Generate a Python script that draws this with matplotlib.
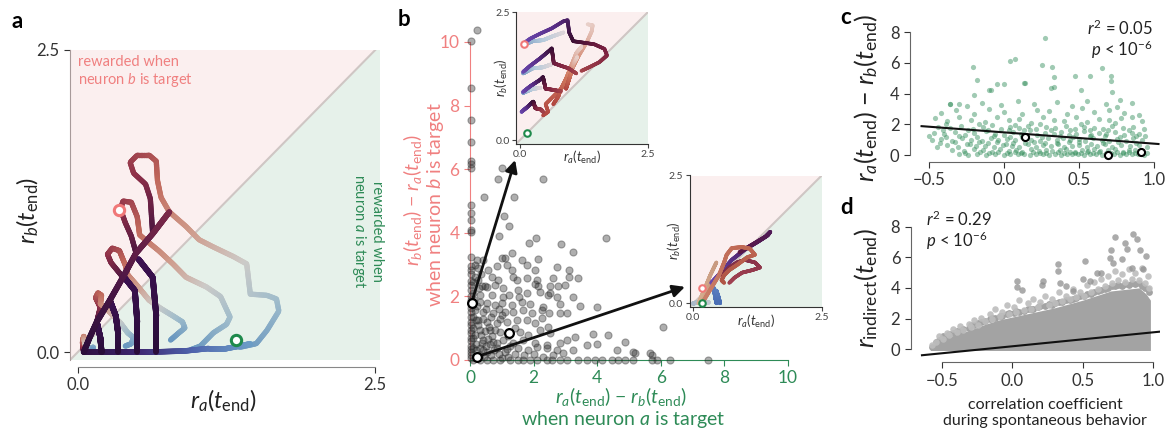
import numpy as np
import matplotlib
matplotlib.use("Agg")
import matplotlib.pyplot as plt
from matplotlib.collections import LineCollection
from matplotlib.colors import LinearSegmentedColormap

plt.rcParams['font.family'] = ['Lato', 'DejaVu Sans']
plt.rcParams['mathtext.fontset'] = 'custom'
plt.rcParams['mathtext.rm'] = 'Lato'
plt.rcParams['mathtext.it'] = 'Lato:italic'
plt.rcParams['mathtext.bf'] = 'Lato:bold'

# ---------------- data: panel a trajectories ----------------
a_trunk_x = [0.05, 0.10, 0.16, 0.27, 0.38, 0.49, 0.63, 0.77]
a_trunk_y = [0.00, 0.12, 0.25, 0.43, 0.62, 0.82, 0.98, 1.16]
a_drops = [
    ([0.16, 0.19, 0.20], [0.25, 0.12, 0.0]),
    ([0.27, 0.32, 0.34, 0.34], [0.43, 0.30, 0.15, 0.0]),
    ([0.39, 0.48, 0.50, 0.50], [0.62, 0.51, 0.25, 0.0]),
    ([0.51, 0.63, 0.66, 0.66], [0.77, 0.62, 0.30, 0.0]),
]
a_bottom_x = [0.05, 0.30, 0.60, 0.90, 1.10, 1.25, 1.36, 1.45]
a_bottom_y = [0.00, 0.00, 0.00, 0.01, 0.03, 0.03, 0.05, 0.07]
a_loops = [
    ([0.63, 0.61, 0.57, 0.47, 0.44, 0.50, 0.60, 0.66, 0.67, 0.70, 0.77, 0.91, 1.02, 1.14, 1.31,
      1.42, 1.45, 1.59, 1.67, 1.69, 1.59, 1.50, 1.36],
     [0.98, 1.27, 1.39, 1.48, 1.57, 1.63, 1.63, 1.58, 1.42, 1.28, 1.16, 1.04, 0.93, 0.87, 0.79,
      0.73, 0.48, 0.47, 0.44, 0.34, 0.18, 0.07, 0.04]),
    ([0.49, 0.45, 0.40, 0.36, 0.38, 0.45, 0.50, 0.52, 0.58, 0.68, 0.80, 0.91, 1.08, 1.20, 1.28,
      1.25, 1.14, 1.03, 0.95],
     [0.82, 0.96, 1.07, 1.18, 1.25, 1.24, 1.12, 0.97, 0.92, 0.84, 0.73, 0.62, 0.54, 0.46, 0.29,
      0.23, 0.16, 0.05, 0.02]),
    ([0.38, 0.33, 0.28, 0.25, 0.29, 0.35, 0.40, 0.42, 0.50, 0.60, 0.70, 0.80, 0.88, 0.90, 0.85,
      0.78],
     [0.62, 0.68, 0.74, 0.81, 0.86, 0.84, 0.72, 0.64, 0.55, 0.43, 0.36, 0.30, 0.25, 0.20, 0.16,
      0.10]),
    ([0.16, 0.19, 0.15, 0.17, 0.20, 0.19, 0.24, 0.30, 0.36, 0.42, 0.47, 0.45, 0.40],
     [0.25, 0.37, 0.45, 0.49, 0.47, 0.40, 0.36, 0.30, 0.24, 0.16, 0.12, 0.07, 0.05]),
    ([0.05, 0.04, 0.05, 0.06, 0.09, 0.13, 0.12],
     [0.00, 0.08, 0.13, 0.07, 0.03, 0.04, 0.01]),
]
a_start_pt = (0.35, 1.18)   # pink open circle
a_end_pt = (1.33, 0.10)     # green open circle

# ---------------- data: inset 1 (panel b, top) ----------------
i1_purple = [
    ([0.06, 0.20, 0.40, 0.62, 0.85, 0.93, 0.96, 1.04, 1.25, 1.45, 1.65, 1.70, 1.55, 1.35, 1.20],
     [1.88, 1.98, 2.08, 2.18, 2.32, 2.34, 2.10, 1.93, 1.90, 1.87, 1.78, 1.65, 1.52, 1.42, 1.35]),
    ([0.06, 0.20, 0.40, 0.58, 0.62, 0.66, 0.80, 0.95, 1.10],
     [1.33, 1.45, 1.60, 1.75, 1.79, 1.50, 1.45, 1.40, 1.30]),
    ([0.06, 0.20, 0.40, 0.45, 0.50, 0.65, 0.80],
     [0.94, 1.05, 1.18, 1.23, 1.00, 0.98, 0.95]),
    ([0.03, 0.15, 0.26, 0.30, 0.40, 0.45],
     [0.55, 0.65, 0.75, 0.62, 0.60, 0.55]),
]
i1_blue = [
    ([0.06, 0.25, 0.45, 0.65, 0.85], [1.85, 1.93, 1.95, 2.03, 2.10]),
    ([0.06, 0.25, 0.45, 0.62], [1.30, 1.40, 1.42, 1.48]),
    ([0.06, 0.25, 0.40], [0.92, 1.00, 1.02]),
]
i1_salmon = [
    ([0.45, 0.55, 0.50, 0.60, 0.75, 0.85, 0.95, 1.05, 1.15, 1.30, 1.40, 1.42, 1.32],
     [0.48, 0.55, 0.70, 0.80, 0.95, 1.05, 1.25, 1.45, 1.65, 1.90, 2.12, 2.24, 2.26]),
    ([0.65, 0.75, 0.80, 0.90, 1.00, 1.10, 1.20],
     [0.70, 0.85, 1.00, 1.20, 1.45, 1.70, 1.82]),
    ([0.90, 0.98, 1.05, 1.12], [1.00, 1.25, 1.50, 1.62]),
]
i1_start_pt = (0.08, 1.87)
i1_end_pt = (0.13, 0.13)

# ---------------- data: inset 2 (panel b, right) ----------------
i2_paths = [
    ([0.35, 0.55, 0.75, 1.00, 1.25, 1.45, 1.50, 1.40, 1.15, 0.90],
     [0.40, 0.62, 0.85, 1.05, 1.20, 1.33, 1.40, 1.30, 1.15, 1.00]),
    ([0.55, 0.70, 0.85, 1.00, 1.20, 1.30, 1.15, 0.95, 0.80, 0.70],
     [0.55, 0.70, 0.80, 0.85, 0.80, 0.70, 0.65, 0.60, 0.50, 0.40]),
    ([0.20, 0.35, 0.50, 0.60, 0.65, 0.75, 0.95, 1.10, 1.20, 1.05, 0.85, 0.70, 0.60, 0.55, 0.60],
     [0.05, 0.30, 0.55, 0.80, 0.95, 1.08, 1.10, 1.07, 0.95, 0.90, 0.75, 0.65, 0.55, 0.45, 0.40]),
]
i2_blue = [
    ([0.40, 0.42, 0.45], [0.30, 0.15, 0.00]),
    ([0.45, 0.50, 0.52], [0.25, 0.10, 0.00]),
]
i2_tan = [
    ([0.10, 0.22, 0.33, 0.45], [0.00, 0.28, 0.55, 0.80]),
    ([0.15, 0.26, 0.36], [0.00, 0.20, 0.42]),
]
i2_grey_x = [0.00, 0.10, 0.20, 0.30]
i2_grey_y = [0.00, 0.02, 0.00, 0.02]
i2_start_pt = (0.16, 0.30)
i2_end_pt = (0.16, 0.00)

# ---------------- data: panel b scatter ----------------
b_col_y = [10.04, 8.54, 7.55, 6.87, 6.26, 6.15, 6.03, 4.87, 4.61, 4.40, 4.09, 4.04, 3.25, 2.95,
           2.83, 2.70, 2.50, 2.35, 2.20, 2.00, 1.90, 1.65, 1.50, 1.35, 1.20, 1.10, 0.95, 0.85,
           0.70, 0.60, 0.45, 0.35, 0.25, 0.15, 0.05]
b_pts = [
    (0.21, 10.38), (1.0, 6.03), (0.89, 5.68), (2.31, 5.68), (0.43, 5.13), (1.37, 5.13),
    (1.08, 4.54), (1.22, 4.22), (0.92, 3.90), (4.28, 3.83), (2.08, 3.85), (1.84, 3.67), (2.86, 3.65),
    (1.31, 3.38), (3.25, 3.39), (1.0, 3.2), (1.1, 3.2), (1.62, 3.14), (2.13, 3.17), (0.21, 3.14),
    (0.42, 3.14), (0.84, 2.96), (1.15, 3.0), (1.31, 2.83), (1.78, 3.0), (2.73, 2.94), (3.12, 2.83),
    (2.04, 2.83), (0.58, 2.83), (1.36, 2.62), (1.47, 2.52), (1.78, 2.57), (2.1, 2.52), (2.62, 2.57),
    (3.12, 2.6), (3.41, 2.57), (0.68, 2.62), (0.89, 2.52), (0.26, 2.52), (0.37, 2.33), (0.47, 2.33),
    (0.79, 2.36), (1.05, 2.25), (1.52, 2.2), (2.04, 2.38), (2.15, 2.33), (2.52, 2.33), (2.78, 2.33),
    (2.99, 2.36), (0.1, 2.1), (0.31, 2.04), (0.68, 2.04), (1.05, 1.99), (1.24, 2.04), (1.55, 1.99),
    (1.78, 2.1), (2.2, 2.15), (2.46, 2.04), (2.52, 2.1), (3.25, 1.97), (2.73, 1.99), (0.31, 1.83),
    (0.52, 1.78), (0.79, 1.73), (1.0, 1.78), (1.31, 1.73), (1.63, 1.83), (1.89, 1.76), (2.31, 1.68),
    (2.83, 1.76), (3.46, 1.7), (3.98, 1.68), (0.16, 1.57), (0.42, 1.52), (0.73, 1.47), (1.0, 1.42),
    (1.36, 1.52), (1.68, 1.57), (1.94, 1.47), (2.25, 1.57), (2.49, 1.47), (2.83, 1.47), (3.04, 1.47),
    (0.1, 1.36), (0.26, 1.26), (0.52, 1.2), (0.84, 1.15), (1.15, 1.2), (1.47, 1.26), (1.78, 1.26),
    (2.04, 1.15), (2.46, 1.05), (2.25, 1.31), (0.1, 1.0), (0.31, 0.94), (0.63, 0.94), (0.94, 0.89),
    (1.57, 0.89), (1.83, 0.79), (2.2, 0.94), (2.52, 0.84), (3.88, 0.82), (4.35, 0.79), (6.08, 1.05),
    (0.1, 0.68), (0.42, 0.63), (0.73, 0.58), (1.05, 0.63), (1.36, 0.55), (1.68, 0.63), (2.04, 0.52),
    (2.41, 0.47), (2.83, 0.52), (3.04, 0.63), (3.3, 0.71), (3.67, 0.47), (3.98, 0.49), (4.87, 0.56),
    (4.61, 0.31), (5.14, 0.26), (5.2, 0.21), (5.66, 0.23), (5.71, 0.16), (0.1, 0.37), (0.42, 0.31),
    (0.84, 0.37), (1.1, 0.26), (1.52, 0.37), (1.83, 0.31), (2.1, 0.42), (2.41, 0.37), (2.73, 0.31),
    (2.94, 0.21), (3.25, 0.31), (0.2, 0.5), (0.35, 0.8), (0.5, 0.45), (0.6, 1.05), (0.25, 1.1),
    (0.4, 1.3), (0.15, 0.8), (0.55, 0.25), (0.7, 0.75), (0.85, 0.55), (0.3, 0.15), (0.45, 0.1),
    (0.65, 0.15), (0.9, 0.2), (1.2, 0.1), (1.4, 0.2), (0.18, 0.3), (0.38, 0.55), (0.58, 0.65),
    (0.78, 0.95), (0.95, 1.3), (1.2, 0.75), (1.4, 1.0), (0.22, 1.7), (0.12, 1.9), (0.5, 1.6),
    (0.65, 1.35), (0.9, 1.6), (1.1, 1.5), (1.25, 0.45), (1.7, 0.15), (2.0, 0.2), (2.3, 0.1),
    (2.6, 0.15), (0.28, 2.25), (0.15, 2.6), (0.55, 2.3), (0.18, 1.25), (0.33, 0.38), (0.62, 0.5),
    (0.48, 0.9), (0.75, 0.3), (1.0, 0.05), (1.15, 0.35), (0.08, 2.45), (0.15, 3.0), (0.25, 2.9),
    (0.35, 2.7),
]
b_zero_x = [0.1, 0.31, 0.52, 0.73, 0.94, 1.26, 1.52, 1.68, 1.89, 2.1, 2.41, 2.57, 2.83, 3.04,
            3.41, 3.67, 3.93, 4.14, 4.46, 4.66, 4.87, 5.14, 5.71, 5.87, 6.29, 7.49]
b_highlight = [(0.05, 1.80), (1.24, 0.84), (0.21, 0.10)]

# ---------------- data: panel c ----------------
c_rows_x = [
    [-0.30, -0.24, -0.18, -0.12, -0.06, 0.00, 0.04, 0.09, 0.13, 0.17, 0.21, 0.26, 0.30, 0.34, 0.38,
     0.42, 0.45, 0.49, 0.53, 0.57, 0.61, 0.65, 0.73, 0.77, 0.81, 0.85, 0.89, 0.93],
    [-0.26, -0.16, -0.10, -0.04, 0.02, 0.07, 0.11, 0.19, 0.24, 0.28, 0.36, 0.40, 0.44, 0.47, 0.51,
     0.55, 0.59, 0.63, 0.68, 0.71, 0.75, 0.79, 0.83, 0.87, 0.91, 0.95],
    [-0.35, -0.27, -0.20, -0.14, -0.08, -0.03, 0.03, 0.08, 0.12, 0.18, 0.23, 0.28, 0.32, 0.37, 0.41,
     0.47, 0.52, 0.56, 0.60, 0.64, 0.69, 0.74, 0.79, 0.83, 0.87, 0.92],
    [-0.45, -0.38, -0.31, -0.25, -0.19, -0.13, -0.07, -0.01, 0.05, 0.10, 0.16, 0.21, 0.26, 0.31, 0.36,
     0.40, 0.45, 0.50, 0.55, 0.62, 0.67, 0.72, 0.78, 0.84, 0.90, 0.95],
    [-0.43, -0.33, -0.23, -0.17, -0.11, -0.05, 0.01, 0.06, 0.14, 0.20, 0.27, 0.35, 0.43, 0.50, 0.58,
     0.66, 0.76, 0.88],
    [-0.48, -0.42, -0.35, -0.28, -0.22, -0.15, -0.09, -0.04, 0.02, 0.07, 0.12, 0.18, 0.24, 0.29, 0.35,
     0.39, 0.44, 0.50, 0.54, 0.59, 0.65, 0.70, 0.75, 0.81, 0.86, 0.92],
    [-0.50, -0.39, -0.30, -0.18, -0.07, 0.04, 0.15, 0.25, 0.37, 0.46, 0.57, 0.67, 0.77, 0.88, 0.94],
    [-0.47, -0.40, -0.33, -0.26, -0.20, -0.12, -0.06, 0.00, 0.06, 0.11, 0.17, 0.22, 0.27, 0.33, 0.38,
     0.43, 0.48, 0.53, 0.58, 0.63, 0.68, 0.74, 0.80, 0.85, 0.90],
    [-0.41, -0.24, -0.11, 0.03, 0.13, 0.31, 0.44, 0.57, 0.69, 0.83],
    [-0.44, -0.36, -0.29, -0.21, -0.14, -0.08, -0.02, 0.04, 0.10, 0.16, 0.21, 0.28, 0.34, 0.41, 0.47,
     0.53, 0.60, 0.66, 0.72, 0.79, 0.86, 0.93],
    [-0.39, -0.17, 0.07, 0.24, 0.51, 0.74],
    [-0.46, -0.38, -0.30, -0.22, -0.13, -0.05, 0.03, 0.10, 0.18, 0.26, 0.33, 0.40, 0.48, 0.55, 0.63,
     0.70, 0.78, 0.85, 0.92],
    [-0.42, -0.32, -0.20, -0.10, 0.00, 0.12, 0.22, 0.30, 0.42, 0.52, 0.60, 0.70, 0.80, 0.90],
    [-0.36, -0.25, -0.15, -0.02, 0.09, 0.20, 0.35, 0.45, 0.55, 0.68, 0.75, 0.85],
]
c_rows_y = [
    [0.05, 0.02, 0.08, 0.03, 0.06, 0.01, 0.09, 0.04, 0.07, 0.02, 0.05, 0.08, 0.03, 0.06, 0.01,
     0.09, 0.04, 0.07, 0.02, 0.05, 0.08, 0.03, 0.06, 0.01, 0.09, 0.04, 0.07, 0.02],
    [0.15, 0.18, 0.12, 0.20, 0.14, 0.17, 0.13, 0.19, 0.15, 0.11, 0.18, 0.14, 0.20, 0.12, 0.16,
     0.19, 0.13, 0.17, 0.15, 0.11, 0.18, 0.14, 0.20, 0.12, 0.16, 0.13],
    [0.35, 0.25, 0.40, 0.30, 0.22, 0.38, 0.28, 0.33, 0.20, 0.42, 0.27, 0.36, 0.24, 0.31, 0.40,
     0.22, 0.35, 0.28, 0.38, 0.25, 0.32, 0.41, 0.21, 0.36, 0.30, 0.26],
    [0.55, 0.65, 0.50, 0.70, 0.58, 0.62, 0.52, 0.68, 0.60, 0.55, 0.72, 0.50, 0.64, 0.58, 0.70,
     0.53, 0.62, 0.66, 0.50, 0.60, 0.72, 0.55, 0.63, 0.58, 0.67, 0.52],
    [0.78, 0.84, 0.75, 0.82, 0.77, 0.86, 0.74, 0.81, 0.78, 0.83, 0.76, 0.80, 0.87, 0.82, 0.75,
     0.79, 0.84, 0.76],
    [0.95, 1.05, 0.90, 1.10, 1.00, 0.93, 1.12, 0.95, 1.05, 0.98, 1.15, 0.98, 0.93, 1.08, 0.95,
     1.12, 0.96, 1.02, 0.92, 1.10, 0.96, 0.93, 1.05, 0.94, 1.10, 0.95],
    [1.22, 1.18, 1.25, 1.20, 1.24, 1.17, 1.23, 1.20, 1.26, 1.19, 1.22, 1.24, 1.18, 1.21, 1.25],
    [1.45, 1.35, 1.50, 1.30, 1.42, 1.55, 1.38, 1.32, 1.48, 1.35, 1.60, 1.33, 1.45, 1.38, 1.52,
     1.31, 1.40, 1.55, 1.32, 1.45, 1.36, 1.50, 1.33, 1.42, 1.38],
    [1.65, 1.62, 1.66, 1.60, 1.64, 1.63, 1.61, 1.66, 1.60, 1.64],
    [1.85, 1.75, 1.90, 1.70, 1.80, 1.95, 1.72, 1.85, 1.78, 1.92, 1.70, 1.82, 1.76, 1.90, 1.72,
     1.85, 1.78, 1.70, 1.88, 1.75, 1.82, 1.70],
    [2.02, 2.05, 1.98, 2.03, 2.00, 2.06],
    [2.40, 2.20, 2.50, 2.30, 2.15, 2.45, 2.25, 2.35, 2.10, 2.50, 2.30, 2.20, 2.45, 2.15, 2.35,
     2.25, 2.40, 2.50, 2.20],
    [2.75, 2.90, 2.65, 3.00, 2.80, 2.70, 2.95, 2.85, 2.70, 3.05, 2.80, 2.90, 2.75, 2.60],
    [3.35, 3.20, 3.40, 3.25, 3.50, 3.30, 3.45, 3.20, 3.50, 3.30, 3.10, 3.40],
]
c_out_x = [0.27, 0.07, 0.04, 0.25, -0.21, 0.32, 0.65, -0.18, 0.14, 0.33, 0.47, 0.57, 0.71, 0.71,
           -0.05, -0.09, 0.00, 0.31, 0.33, 0.51, 0.72, 0.77, -0.36, -0.20, -0.10, 0.13, -0.30]
c_out_y = [7.58, 6.27, 6.12, 5.84, 5.73, 5.73, 5.63, 4.87, 4.70, 5.08, 5.13, 5.13, 5.15, 4.83,
           4.65, 4.26, 4.65, 4.33, 4.43, 4.20, 4.10, 3.60, 3.35, 3.89, 4.22, 4.70, 3.30]
c_fit_x = [-0.55, 1.03]
c_fit_y = [1.88, 0.72]
c_highlight_x = [0.14, 0.69, 0.91]
c_highlight_y = [1.19, 0.02, 0.17]

# ---------------- data: panel d ----------------
d_env_x = [-0.58, -0.55, -0.50, -0.40, -0.30, -0.20, -0.10, 0.00, 0.10, 0.20, 0.30, 0.40, 0.50,
           0.60, 0.70, 0.80, 0.90, 0.95, 0.98]
d_env_top = [0.00, 0.30, 0.60, 0.95, 1.25, 1.60, 1.90, 2.10, 2.30, 2.50, 2.70, 2.95, 3.20, 3.50,
             3.80, 3.90, 4.00, 3.60, 3.20]
d_env_bot = [-0.08, -0.08, -0.08, -0.08, -0.08, -0.08, -0.08, -0.08, -0.08, -0.08, -0.08, -0.08,
             -0.08, -0.08, -0.08, -0.08, -0.08, -0.08, -0.08]
d_fx = [-0.57, -0.54, -0.52, -0.49, -0.46, -0.45, -0.42, -0.39, -0.37, -0.35, -0.31, -0.29, -0.27,
        -0.24, -0.22, -0.19, -0.16, -0.14, -0.12, -0.09, -0.07, -0.04, -0.02, 0.01, 0.03, 0.05,
        0.08, 0.11, 0.13, 0.15, 0.18, 0.20, 0.23, 0.26, 0.28, 0.30, 0.33, 0.35, 0.38, 0.41, 0.43,
        0.45, 0.48, 0.51, 0.53, 0.56, 0.58, 0.61, 0.63, 0.66, 0.68, 0.71, 0.73, 0.75, 0.78, 0.80,
        0.83, 0.85, 0.87, 0.90, 0.92, 0.94, 0.96, 0.97]
d_fy1 = [0.25, 0.50, 0.85, 0.70, 1.05, 0.95, 1.30, 1.15, 1.50, 1.25, 1.65, 1.45, 1.90, 1.60, 2.05,
         1.85, 2.30, 2.00, 2.60, 2.15, 2.45, 2.90, 2.30, 2.75, 2.40, 3.20, 2.55, 3.00, 2.60, 3.30,
         2.75, 3.10, 3.45, 2.90, 3.30, 3.00, 3.70, 3.15, 3.50, 3.30, 3.90, 3.40, 3.75, 3.50, 4.20,
         3.70, 4.40, 3.90, 4.60, 4.10, 4.80, 4.30, 5.10, 4.50, 4.90, 4.40, 5.20, 4.60, 5.00, 4.50,
         5.30, 4.30, 4.80, 4.00]
d_fy2 = [0.15, 0.45, 0.60, 0.85, 0.85, 1.00, 1.05, 1.20, 1.20, 1.35, 1.40, 1.55, 1.55, 1.70, 1.75,
         1.85, 1.95, 2.05, 2.05, 2.20, 2.20, 2.30, 2.35, 2.35, 2.50, 2.45, 2.50, 2.60, 2.65, 2.60,
         2.75, 2.80, 2.80, 2.95, 2.90, 3.00, 3.05, 3.10, 3.20, 3.20, 3.30, 3.35, 3.45, 3.45, 3.60,
         3.60, 3.75, 3.80, 3.85, 3.95, 4.00, 4.10, 4.10, 4.20, 4.15, 4.25, 4.20, 4.30, 4.25, 4.30,
         4.10, 4.00, 3.90, 3.70]
d_out_x = [0.906, 0.858, 0.727, 0.886, 0.697, 0.815, 0.906, 0.515, 0.326, 0.326, 0.693, 0.716,
           0.031, 0.031, 0.066, 0.22, 0.21, 0.34, 0.38, 0.43, 0.50, 0.55, 0.60, 0.633, 0.78, 0.85,
           0.93, 0.95, 0.80]
d_out_y = [8.56, 7.54, 7.32, 7.19, 6.49, 6.55, 6.49, 5.73, 5.58, 5.08, 5.95, 5.62, 4.46, 4.05, 3.87,
           4.42, 4.20, 4.30, 4.10, 3.77, 4.57, 4.42, 4.96, 5.00, 5.90, 5.30, 5.20, 6.10, 6.90]
d_fit_x = [-0.64, 1.05]
d_fit_y = [-0.39, 1.15]

# ---------------- styling ----------------
PINK_BG = '#fbefef'
GREEN_BG = '#e6f1ea'
SALMON = '#f08080'
GREEN = '#2e8b57'
LOOP_STOPS = ['#4a1540', '#8e2f48', '#c0675a', '#cf9a8a', '#cdcbc8', '#9fbccb', '#6a98c0']
TRUNK_STOPS = ['#2a0e3a', '#4e1746', '#7a2848']
DROP_STOPS = ['#3d1152', '#2a0d3a']
BOTTOM_STOPS = ['#2e0f40', '#3d2670', '#4f64ad', '#6b9cc6']

W, H = 1168, 434


def fax(l, t, r, b):
    return [l / W, 1 - b / H, (r - l) / W, (b - t) / H]


def grad_line(ax, xs, ys, stops, lw=3.5, z=3, n=240):
    xs = np.asarray(xs, float)
    ys = np.asarray(ys, float)
    d = np.r_[0, np.cumsum(np.hypot(np.diff(xs), np.diff(ys)))]
    t = np.linspace(0, d[-1], n)
    X = np.interp(t, d, xs)
    Y = np.interp(t, d, ys)
    pts = np.column_stack([X, Y]).reshape(-1, 1, 2)
    segs = np.concatenate([pts[:-1], pts[1:]], axis=1)
    cmap = LinearSegmentedColormap.from_list('g', stops)
    lc = LineCollection(segs, colors=cmap(np.linspace(0, 1, n - 1)), linewidths=lw,
                        capstyle='round', joinstyle='round', zorder=z)
    ax.add_collection(lc)


def state_space(ax, lo, hi):
    ax.fill([lo, hi, lo], [lo, hi, hi], color=PINK_BG, zorder=0, lw=0)
    ax.fill([lo, hi, hi], [lo, lo, hi], color=GREEN_BG, zorder=0, lw=0)
    ax.plot([lo, hi], [lo, hi], color='#cfc6c4', lw=1.5, zorder=1)
    ax.set_xlim(lo, hi)
    ax.set_ylim(lo, hi)
    for s in ['top', 'right']:
        ax.spines[s].set_visible(False)


fig = plt.figure(figsize=(W / 100, H / 100), dpi=100)

# ================= panel a =================
axa = fig.add_axes(fax(70, 50, 380, 360))
state_space(axa, -0.065, 2.54)
axa.set_ylim(-0.065, 2.5)
for xs, ys in a_loops:
    grad_line(axa, xs, ys, LOOP_STOPS, lw=3.8, z=3)
grad_line(axa, a_bottom_x, a_bottom_y, BOTTOM_STOPS, lw=4, z=4)
for xs, ys in a_drops:
    grad_line(axa, xs, ys, DROP_STOPS, lw=4.2, z=5)
grad_line(axa, a_trunk_x, a_trunk_y, TRUNK_STOPS, lw=4.2, z=5)
axa.scatter([a_start_pt[0]], [a_start_pt[1]], s=55, facecolor='white', edgecolor='#f07878',
            lw=2.2, zorder=8)
axa.scatter([a_end_pt[0]], [a_end_pt[1]], s=55, facecolor='white', edgecolor='#1f8a4c',
            lw=2.2, zorder=8)
axa.set_xticks([0, 2.5])
axa.set_yticks([0, 2.5])
axa.set_xticklabels(['0.0', '2.5'])
axa.set_yticklabels(['0.0', '2.5'])
axa.tick_params(labelsize=12, colors='#333333', length=4)
axa.spines['bottom'].set_position(('outward', 5))
axa.spines['bottom'].set_bounds(0, 2.5)
axa.spines['left'].set_color('#a89a9a')
axa.spines['bottom'].set_color('#888888')
axa.text(0.0, 2.46, 'rewarded when\nneuron $b$ is target', color=SALMON, fontsize=10.5,
         va='top', ha='left', linespacing=1.15)
axa.text(2.43, 1.47, 'rewarded when\nneuron $a$ is target', color=GREEN, fontsize=10.5,
         va='top', ha='center', rotation=-90, linespacing=1.15)
fig.text(28 / W, 1 - 210 / H, r'$r_b(t_{\mathrm{end}})$', fontsize=17, rotation=90,
         ha='center', va='center', color='#222222')
fig.text(223 / W, 1 - 401 / H, r'$r_a(t_{\mathrm{end}})$', fontsize=17,
         ha='center', va='center', color='#222222')
fig.text(12 / W, 1 - 22 / H, 'a', fontsize=16, fontweight='bold', va='center')

# ================= panel b =================
axb = fig.add_axes(fax(470, 42, 788, 360))
axb.set_xlim(0, 10)
axb.set_ylim(0, 10)
bx = [0.03] * len(b_col_y) + [p[0] for p in b_pts] + b_zero_x
by = b_col_y + [p[1] for p in b_pts] + [0.0] * len(b_zero_x)
axb.scatter(bx, by, s=26, color='#2a2a2a', alpha=0.38, lw=0.8, clip_on=False, zorder=3)
axb.scatter([p[0] for p in b_highlight], [p[1] for p in b_highlight], s=40, facecolor='white',
            edgecolor='black', lw=1.6, zorder=6, clip_on=False)
for s in ['top', 'right']:
    axb.spines[s].set_visible(False)
axb.spines['left'].set_color(SALMON)
axb.spines['bottom'].set_color(GREEN)
axb.set_xticks([0, 2, 4, 6, 8, 10])
axb.set_yticks([0, 2, 4, 6, 8, 10])
axb.tick_params(axis='x', colors=GREEN, labelsize=12.5, length=4)
axb.tick_params(axis='y', colors=SALMON, labelsize=12.5, length=4)
fig.text(413 / W, 1 - 200 / H,
         '$r_b(t_{\\mathrm{end}})$ \u2212 $r_a(t_{\\mathrm{end}})$',
         rotation=90, color=SALMON, fontsize=14, ha='center', va='center')
fig.text(436 / W, 1 - 205 / H, 'when neuron $b$ is target',
         rotation=90, color=SALMON, fontsize=14, ha='center', va='center')
fig.text(621 / W, 1 - 397 / H,
         '$r_a(t_{\\mathrm{end}})$ \u2212 $r_b(t_{\\mathrm{end}})$',
         color=GREEN, fontsize=14, ha='center', va='center')
fig.text(623 / W, 1 - 420 / H, 'when neuron $a$ is target',
         color=GREEN, fontsize=14, ha='center', va='center')
fig.text(398 / W, 1 - 20 / H, 'b', fontsize=16, fontweight='bold', va='center')

# arrows to insets
axb.annotate('', xy=(1.42, 6.29), xytext=(b_highlight[0][0], b_highlight[0][1]),
             arrowprops=dict(arrowstyle='-|>', color='#111111', lw=2, mutation_scale=18,
                             shrinkA=4, shrinkB=0), annotation_clip=False, zorder=5)
axb.annotate('', xy=(6.76, 2.30), xytext=(b_highlight[2][0], b_highlight[2][1]),
             arrowprops=dict(arrowstyle='-|>', color='#111111', lw=2, mutation_scale=18,
                             shrinkA=4, shrinkB=0), annotation_clip=False, zorder=5)


def inset_style(ax):
    ax.set_xticks([0, 2.5])
    ax.set_yticks([0, 2.5])
    ax.set_xticklabels(['0.0', '2.5'])
    ax.set_yticklabels(['0.0', '2.5'])
    ax.tick_params(labelsize=7.5, colors='#444444', length=3, pad=1.5)
    ax.spines['left'].set_color('#333333')
    ax.spines['bottom'].set_color('#333333')
    ax.set_xlabel(r'$r_a(t_{\mathrm{end}})$', fontsize=9.5, labelpad=-7, color='#333333')
    ax.set_ylabel(r'$r_b(t_{\mathrm{end}})$', fontsize=9.5, labelpad=-10, color='#333333')


# inset 1
ax1 = fig.add_axes(fax(516.4, 12, 648, 143.6))
state_space(ax1, -0.07, 2.5)
for xs, ys in i1_salmon:
    grad_line(ax1, xs, ys, ['#b0453f', '#d07a60', '#e8cfc8'], lw=2.6, z=3)
for xs, ys in i1_blue:
    grad_line(ax1, xs, ys, ['#7a9cc4', '#b6cbdc', '#dcd4d8'], lw=2.6, z=4)
for xs, ys in i1_purple:
    grad_line(ax1, xs, ys, ['#6a4ab0', '#5a2f8a', '#3a0f35', '#7a2040', '#a04048'], lw=2.6, z=5)
ax1.scatter([i1_start_pt[0]], [i1_start_pt[1]], s=22, facecolor='white', edgecolor='#f07878',
            lw=1.5, zorder=8, clip_on=False)
ax1.scatter([i1_end_pt[0]], [i1_end_pt[1]], s=22, facecolor='white', edgecolor='#1f8a4c',
            lw=1.5, zorder=8, clip_on=False)
inset_style(ax1)

# inset 2
ax2 = fig.add_axes(fax(689.7, 175.5, 821.7, 306.9))
state_space(ax2, -0.07, 2.5)
grad_line(ax2, i2_grey_x, i2_grey_y, ['#a8b8c8', '#c0c8d0'], lw=3, z=3)
for xs, ys in i2_tan:
    grad_line(ax2, xs, ys, ['#d8b090', '#c89a80'], lw=2.6, z=3)
for xs, ys in i2_blue:
    grad_line(ax2, xs, ys, ['#5a7fc0', '#4a6fb5'], lw=2.6, z=4)
grad_line(ax2, *i2_paths[0], ['#6a4ab0', '#4a1a60', '#5a1845'], lw=2.8, z=4)
grad_line(ax2, *i2_paths[1], ['#7a2a45', '#a04050'], lw=2.6, z=5)
grad_line(ax2, *i2_paths[2], ['#c9806a', '#c06a55', '#b05545'], lw=2.8, z=6)
ax2.scatter([i2_start_pt[0]], [i2_start_pt[1]], s=22, facecolor='white', edgecolor='#f07878',
            lw=1.5, zorder=8, clip_on=False)
ax2.scatter([i2_end_pt[0]], [i2_end_pt[1]], s=22, facecolor='white', edgecolor='#1f8a4c',
            lw=1.5, zorder=8, clip_on=False)
inset_style(ax2)

# ================= panel c =================
axc = fig.add_axes(fax(910, 32, 1160, 162))
axc.set_xlim(-0.627, 1.04)
axc.set_ylim(-0.45, 8.0)
cx = sum(c_rows_x, []) + c_out_x
cy = sum(c_rows_y, []) + c_out_y
axc.scatter(cx, cy, s=14, color=GREEN, alpha=0.45, lw=0, zorder=3)
axc.plot(c_fit_x, c_fit_y, color='#111111', lw=1.5, zorder=4)
axc.scatter(c_highlight_x, c_highlight_y, s=26, facecolor='white', edgecolor='black', lw=1.5,
            zorder=6)
for s in ['top', 'right']:
    axc.spines[s].set_visible(False)
axc.spines['left'].set_bounds(0, 8)
axc.spines['bottom'].set_bounds(-0.5, 1.0)
axc.spines['left'].set_color('#666666')
axc.spines['bottom'].set_color('#666666')
axc.set_xticks([-0.5, 0.0, 0.5, 1.0])
axc.set_xticklabels(['\u22120.5', '0.0', '0.5', '1.0'])
axc.set_yticks([0, 2, 4, 6, 8])
axc.tick_params(labelsize=12, colors='#333333', length=4)
axc.text(0.99, 8.25, '$r^2$ = 0.05', fontsize=12, ha='right', va='center', color='#222222')
axc.text(0.99, 6.85, '$p$ < 10$^{-6}$', fontsize=12, ha='right', va='center', color='#222222')
fig.text(866 / W, 1 - 98 / H,
         '$r_a(t_{\\mathrm{end}})$ \u2212 $r_b(t_{\\mathrm{end}})$', rotation=90, fontsize=18,
         ha='center', va='center', color='#222222')
fig.text(840 / W, 1 - 17 / H, 'c', fontsize=16, fontweight='bold', va='center')

# ================= panel d =================
axd = fig.add_axes(fax(910.7, 225, 1160, 362.3))
axd.set_xlim(-0.72, 1.048)
axd.set_ylim(-0.85, 8.1)
axd.fill_between(d_env_x, d_env_bot, d_env_top, color='#a3a3a3', lw=0, zorder=2)
axd.scatter(d_fx, d_fy2, s=24, color='#a3a3a3', lw=0, zorder=3)
axd.scatter(d_fx, d_fy1, s=22, color='#bdbdbd', alpha=0.9, lw=0, zorder=3)
axd.scatter(d_out_x, d_out_y, s=22, color='#8f8f8f', alpha=0.75, lw=0, zorder=3)
axd.plot(d_fit_x, d_fit_y, color='#111111', lw=1.5, zorder=4)
for s in ['top', 'right']:
    axd.spines[s].set_visible(False)
axd.spines['left'].set_bounds(0, 8)
axd.spines['bottom'].set_bounds(-0.5, 1.0)
axd.spines['left'].set_color('#666666')
axd.spines['bottom'].set_color('#666666')
axd.set_xticks([-0.5, 0.0, 0.5, 1.0])
axd.set_xticklabels(['\u22120.5', '0.0', '0.5', '1.0'])
axd.set_yticks([0, 2, 4, 6, 8])
axd.tick_params(labelsize=12, colors='#333333', length=4)
axd.text(-0.61, 8.45, '$r^2$ = 0.29', fontsize=12, ha='left', va='center', color='#222222')
axd.text(-0.61, 7.05, '$p$ < 10$^{-6}$', fontsize=12, ha='left', va='center', color='#222222')
fig.text(866 / W, 1 - 288 / H, r'$r_{\mathrm{indirect}}(t_{\mathrm{end}})$', rotation=90,
         fontsize=18, ha='center', va='center', color='#222222')
fig.text(1045 / W, 1 - 413 / H, 'correlation coefficient\nduring spontaneous behavior',
         fontsize=11.5, ha='center', va='center', color='#222222', linespacing=1.2)
fig.text(840 / W, 1 - 208 / H, 'd', fontsize=16, fontweight='bold', va='center')

fig.savefig('out.png', dpi=100)
